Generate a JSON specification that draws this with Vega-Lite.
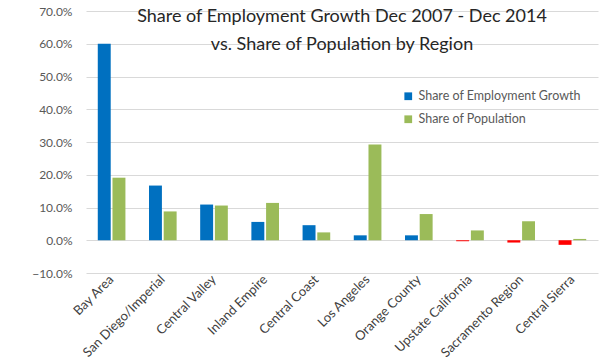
{
  "$schema": "https://vega.github.io/schema/vega-lite/v6.json",
  "autosize": "none",
  "width": 512,
  "height": 262,
  "padding": {"left": 86, "top": 11, "right": 4, "bottom": 89},
  "background": "white",
  "title": {
    "text": ["Share of Employment Growth Dec 2007 - Dec 2014", "vs. Share of Population by Region"],
    "offset": -49,
    "anchor": "middle",
    "font": "Lato",
    "fontSize": 18,
    "fontWeight": "normal",
    "color": "#262626",
    "lineHeight": 28
  },
  "data": {
    "values": [
      {"region": "Bay Area", "series": "Share of Employment Growth", "value": 0.600},
      {"region": "Bay Area", "series": "Share of Population", "value": 0.191},
      {"region": "San Diego/Imperial", "series": "Share of Employment Growth", "value": 0.167},
      {"region": "San Diego/Imperial", "series": "Share of Population", "value": 0.088},
      {"region": "Central Valley", "series": "Share of Employment Growth", "value": 0.109},
      {"region": "Central Valley", "series": "Share of Population", "value": 0.106},
      {"region": "Inland Empire", "series": "Share of Employment Growth", "value": 0.056},
      {"region": "Inland Empire", "series": "Share of Population", "value": 0.114},
      {"region": "Central Coast", "series": "Share of Employment Growth", "value": 0.046},
      {"region": "Central Coast", "series": "Share of Population", "value": 0.024},
      {"region": "Los Angeles", "series": "Share of Employment Growth", "value": 0.015},
      {"region": "Los Angeles", "series": "Share of Population", "value": 0.292},
      {"region": "Orange County", "series": "Share of Employment Growth", "value": 0.015},
      {"region": "Orange County", "series": "Share of Population", "value": 0.080},
      {"region": "Upstate California", "series": "Share of Employment Growth", "value": -0.003},
      {"region": "Upstate California", "series": "Share of Population", "value": 0.030},
      {"region": "Sacramento Region", "series": "Share of Employment Growth", "value": -0.007},
      {"region": "Sacramento Region", "series": "Share of Population", "value": 0.058},
      {"region": "Central Sierra", "series": "Share of Employment Growth", "value": -0.014},
      {"region": "Central Sierra", "series": "Share of Population", "value": 0.004}
    ]
  },
  "mark": {"type": "bar"},
  "encoding": {
    "x": {
      "field": "region",
      "type": "nominal",
      "sort": null,
      "scale": {"paddingInner": 0.46, "paddingOuter": 0.23},
      "axis": {
        "title": null,
        "labelAngle": -45,
        "labelAlign": "right",
        "labelBaseline": "middle",
        "labelFont": "Lato",
        "labelFontSize": 13,
        "labelColor": "#404040",
        "labelPadding": 4,
        "ticks": false,
        "domain": false
      }
    },
    "xOffset": {"field": "series", "type": "nominal", "scale": {"paddingInner": 0.12}},
    "y": {
      "field": "value",
      "type": "quantitative",
      "scale": {"domain": [-0.1, 0.7], "nice": false},
      "axis": {
        "title": null,
        "values": [-0.1, 0, 0.1, 0.2, 0.3, 0.4, 0.5, 0.6, 0.7],
        "format": ".1%",
        "labelFont": "Lato",
        "labelFontSize": 12,
        "labelColor": "#595959",
        "labelPadding": 14,
        "ticks": false,
        "domain": false,
        "gridColor": "#d9d9d9",
        "gridWidth": 1
      }
    },
    "color": {
      "condition": {"test": "datum.value < 0", "value": "#FF0000"},
      "field": "series",
      "type": "nominal",
      "scale": {"domain": ["Share of Employment Growth", "Share of Population"], "range": ["#0070C0", "#9BBB59"]},
      "legend": {
        "title": null,
        "orient": "none",
        "legendX": 316,
        "legendY": 79,
        "symbolType": "square",
        "symbolSize": 60,
        "labelFont": "Lato",
        "labelFontSize": 12.5,
        "labelColor": "#595959",
        "labelLimit": 300,
        "rowPadding": 10
      }
    }
  },
  "config": {"view": {"stroke": null}}
}
